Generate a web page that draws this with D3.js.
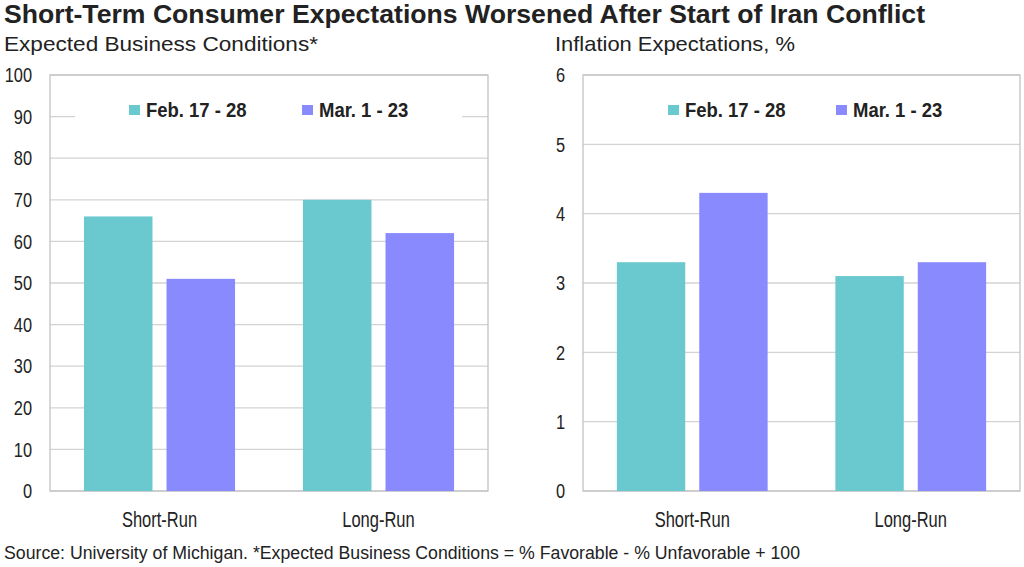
<!DOCTYPE html>
<html>
<head>
<meta charset="utf-8">
<script src="https://cdn.jsdelivr.net/npm/d3@7"></script>
<style>
  body { margin: 0; background: #fff; }
  text { fill: #222; font-family: "Liberation Sans", Arial, sans-serif; }
</style>
</head>
<body>
<svg id="chart" width="1024" height="567"></svg>
<script>
// data
var categories = ["Short-Run", "Long-Run"];
var seriesNames = ["Feb. 17 - 28", "Mar. 1 - 23"];
var colors = ["#6ac9cf", "#8a8aff"];

var businessFeb = [66, 70];
var businessMar = [51, 62];
var inflationFeb = [3.3, 3.1];
var inflationMar = [4.3, 3.3];

var businessTicks = [0, 10, 20, 30, 40, 50, 60, 70, 80, 90, 100];
var inflationTicks = [0, 1, 2, 3, 4, 5, 6];

var svg = d3.select("#chart");

// title, subtitles, source (textLength to match the wide-ish rendering of the original)
svg.append("text").attr("x", 4).attr("y", 23)
  .attr("textLength", 921).attr("lengthAdjust", "spacingAndGlyphs")
  .style("font-size", "25px").style("font-weight", "bold")
  .text("Short-Term Consumer Expectations Worsened After Start of Iran Conflict");
svg.append("text").attr("x", 4).attr("y", 51)
  .attr("textLength", 314).attr("lengthAdjust", "spacingAndGlyphs")
  .style("font-size", "21px")
  .text("Expected Business Conditions*");
svg.append("text").attr("x", 555).attr("y", 51)
  .attr("textLength", 240).attr("lengthAdjust", "spacingAndGlyphs")
  .style("font-size", "21px")
  .text("Inflation Expectations, %");
svg.append("text").attr("x", 4).attr("y", 559)
  .attr("textLength", 796).attr("lengthAdjust", "spacingAndGlyphs")
  .style("font-size", "17.5px")
  .text("Source: University of Michigan. *Expected Business Conditions = % Favorable - % Unfavorable + 100");

// draws one bar panel
function drawPanel(opts) {
  var g = svg.append("g");
  var x = d3.scaleBand().domain(categories).range([opts.left, opts.right])
    .paddingInner(0.31).paddingOuter(0.155);
  var xs = d3.scaleBand().domain(seriesNames).range([0, x.bandwidth()]).paddingInner(0.17);
  var y = d3.scaleLinear().domain([0, opts.max]).range([491, 75]);

  // gridlines
  g.selectAll(".grid").data(opts.ticks).enter().append("line")
    .attr("x1", opts.left).attr("x2", opts.right)
    .attr("y1", function(d) { return y(d); }).attr("y2", function(d) { return y(d); })
    .attr("stroke", "#d3d3d3").attr("stroke-width", 1.3);

  // frame
  g.append("rect").attr("x", opts.left).attr("y", y(opts.max))
    .attr("width", opts.right - opts.left).attr("height", y(0) - y(opts.max))
    .attr("fill", "none").attr("stroke", "#c4c4c4").attr("stroke-width", 1.3);

  // legend background hides the gridline behind it
  g.append("rect").attr("x", opts.legendX - 54).attr("y", 93)
    .attr("width", 387).attr("height", 36).attr("fill", "#fff");

  // bars
  var rows = [];
  categories.forEach(function(c, i) {
    rows.push({ cat: c, s: seriesNames[0], v: opts.a[i], col: colors[0] });
    rows.push({ cat: c, s: seriesNames[1], v: opts.b[i], col: colors[1] });
  });
  g.selectAll(".bar").data(rows).enter().append("rect")
    .attr("x", function(d) { return x(d.cat) + xs(d.s); })
    .attr("width", xs.bandwidth())
    .attr("y", function(d) { return y(d.v); })
    .attr("height", function(d) { return y(0) - y(d.v); })
    .attr("fill", function(d) { return d.col; });

  // y axis, narrow labels
  var ya = g.append("g").attr("transform", "translate(" + opts.tickX + ",0)")
    .call(d3.axisLeft(y).tickValues(opts.ticks).tickFormat(d3.format("d")).tickSize(0).tickPadding(0));
  ya.select(".domain").remove();
  ya.selectAll("text").attr("font-family", null).attr("font-size", null)
    .style("font-size", "21px").attr("fill", "#222").attr("transform", "scale(0.78,1)");

  // x axis
  var xa = g.append("g").attr("transform", "translate(0,505)")
    .call(d3.axisBottom(x).tickSize(0).tickPadding(0));
  xa.select(".domain").remove();
  xa.selectAll("text").attr("font-family", null).attr("font-size", null)
    .style("font-size", "22px").attr("fill", "#222").attr("dy", 22).attr("transform", "scale(0.75,1)");

  // legend
  var leg = g.selectAll(".leg").data(seriesNames).enter().append("g")
    .attr("transform", function(d, i) { return "translate(" + (opts.legendX + i * opts.legendStep) + ",0)"; });
  leg.append("rect").attr("x", 0).attr("y", 105).attr("width", 11).attr("height", 10)
    .attr("fill", function(d, i) { return colors[i]; });
  leg.append("text").attr("transform", "translate(17,117) scale(0.88,1)")
    .style("font-size", "21px").style("font-weight", "bold").text(function(d) { return d; });
}

drawPanel({ left: 50, right: 488, max: 100, ticks: businessTicks, a: businessFeb, b: businessMar,
            tickX: 32, legendX: 129, legendStep: 173 });
drawPanel({ left: 583, right: 1020, max: 6, ticks: inflationTicks, a: inflationFeb, b: inflationMar,
            tickX: 565, legendX: 668, legendStep: 168 });
</script>
</body>
</html>
